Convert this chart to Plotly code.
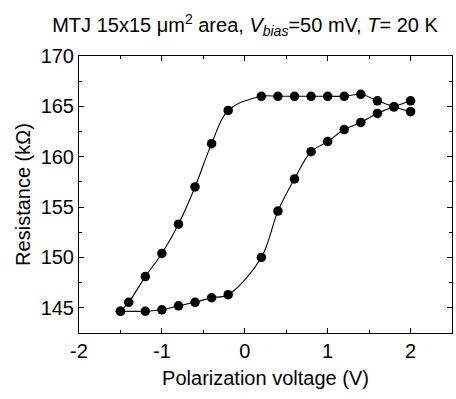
import plotly.graph_objects as go

# Upper branch (sweep from negative to positive, switching near -0.6 V)
v_up = [-1.5, -1.4, -1.2, -1.0, -0.8, -0.6, -0.4, -0.2, 0.2, 0.4, 0.6, 0.8, 1.0, 1.2, 1.4, 1.6, 1.8, 2.0]
r_up = [144.66, 145.55, 148.1, 150.4, 153.3, 157.0, 161.3, 164.6, 166.0, 166.0, 166.0, 166.0, 166.0, 166.0, 166.2, 165.55, 164.96, 164.47]

# Lower branch (switching near +0.4 V)
v_low = [-1.5, -1.2, -1.0, -0.8, -0.6, -0.4, -0.2, 0.2, 0.4, 0.6, 0.8, 1.0, 1.2, 1.4, 1.6, 1.8, 2.0]
r_low = [144.66, 144.66, 144.8, 145.2, 145.55, 146.0, 146.3, 150.0, 154.6, 157.8, 160.5, 161.5, 162.7, 163.4, 164.3, 164.96, 165.55]

x_tickvals = [-2, -1, 0, 1, 2]
x_ticktext = ["-2", "-1", "0", "1", "2"]
y_tickvals = [145, 150, 155, 160, 165, 170]

FONT = "Liberation Sans, Arial, sans-serif"

fig = go.Figure()
for vx, ry in [(v_up, r_up), (v_low, r_low)]:
    fig.add_trace(go.Scatter(
        x=vx, y=ry, mode="lines+markers",
        line=dict(color="black", width=1.1, shape="spline", smoothing=1.0),
        marker=dict(color="black", size=9.5, symbol="circle"),
        showlegend=False, hoverinfo="skip",
    ))

axis_common = dict(
    showline=True, linecolor="black", linewidth=1, mirror="allticks",
    ticks="inside", ticklen=5, tickwidth=1, tickcolor="black",
    showgrid=False, zeroline=False, automargin=False,
    tickfont=dict(family=FONT, size=20, color="black"),
)

fig.update_xaxes(
    range=[-2, 2.5], tickvals=x_tickvals, ticktext=x_ticktext,
    minor=dict(dtick=0.5, ticks="inside", ticklen=3, tickcolor="black", showgrid=False),
    title=dict(text="Polarization voltage (V)", font=dict(family=FONT, size=20, color="black"), standoff=9),
    **axis_common,
)
fig.update_yaxes(
    range=[142.5, 170], tickvals=y_tickvals,
    minor=dict(dtick=2.5, ticks="inside", ticklen=3, tickcolor="black", showgrid=False),
    title=dict(text="Resistance (kΩ)", font=dict(family=FONT, size=20, color="black"), standoff=4),
    **axis_common,
)

fig.update_layout(
    width=456, height=399,
    margin=dict(l=79, r=4, t=56, b=66),
    paper_bgcolor="white", plot_bgcolor="white",
    font=dict(family=FONT, size=20, color="black"),
    title=dict(
        text="MTJ 15x15 μm<sup>2</sup> area, <i>V<sub>bias</sub></i>=50 mV, <i>T</i>= 20 K",
        x=245 / 456, xanchor="center", xref="container",
        y=1 - 25 / 399, yanchor="middle", yref="container",
        font=dict(family=FONT, size=20, color="black"),
    ),
)

fig.write_html("out.html", config={"displayModeBar": False},
               post_script="document.body.style.margin='0';")
